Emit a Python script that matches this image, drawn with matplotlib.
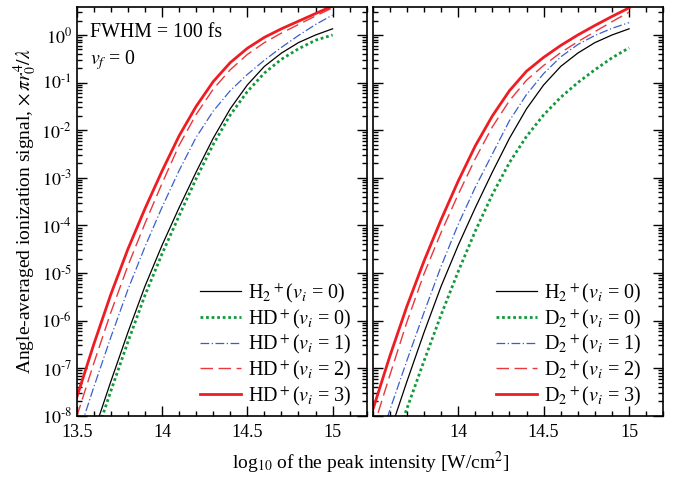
import numpy as np
import matplotlib
matplotlib.use("Agg")
import matplotlib.pyplot as plt
from matplotlib.ticker import MultipleLocator, FixedLocator, FixedFormatter, LogLocator, NullFormatter, FuncFormatter

plt.rcParams['font.family'] = ['Liberation Serif', 'DejaVu Serif']
plt.rcParams['mathtext.fontset'] = 'stix'

# log10 of peak intensity [W/cm^2]
intensity = np.array([13.5, 13.6, 13.7, 13.8, 13.9, 14.0, 14.1, 14.2,
                      14.3, 14.4, 14.5, 14.6, 14.7, 14.8, 14.9, 15.0])

# log10 of angle-averaged ionization signal
h2_v0 = [-9.45, -8.35, -7.28, -6.25, -5.28, -4.42, -3.63, -2.88,
         -2.17, -1.55, -1.05, -0.66, -0.38, -0.16, 0.0, 0.13]

# left panel: HD+
hd_v0 = [-9.65, -8.55, -7.48, -6.45, -5.47, -4.6, -3.8, -3.02,
         -2.3, -1.68, -1.19, -0.8, -0.51, -0.29, -0.11, 0.0]
hd_v1 = [-8.5, -7.4, -6.35, -5.35, -4.45, -3.62, -2.85, -2.15,
         -1.6, -1.17, -0.83, -0.53, -0.26, -0.01, 0.22, 0.42]
hd_v2 = [-8.02, -6.9, -5.83, -4.85, -3.96, -3.12, -2.32, -1.67,
         -1.14, -0.73, -0.41, -0.16, 0.04, 0.22, 0.40, 0.57]
hd_v3 = [-7.62, -6.5, -5.45, -4.5, -3.65, -2.86, -2.12, -1.5,
         -0.98, -0.58, -0.28, -0.05, 0.13, 0.29, 0.45, 0.61]

# right panel: D2+
d2_v0 = [-9.85, -8.85, -7.85, -6.85, -5.88, -4.97, -4.12, -3.35,
         -2.68, -2.13, -1.68, -1.31, -1.0, -0.73, -0.48, -0.27]
d2_v1 = [-8.95, -7.88, -6.84, -5.83, -4.86, -3.98, -3.2, -2.5,
         -1.8, -1.25, -0.81, -0.46, -0.2, -0.01, 0.14, 0.26]
d2_v2 = [-8.3, -7.15, -6.03, -5.02, -4.15, -3.35, -2.6, -1.93,
         -1.38, -0.95, -0.64, -0.37, -0.14, 0.07, 0.28, 0.48]
d2_v3 = [-7.88, -6.75, -5.7, -4.75, -3.88, -3.07, -2.33, -1.7,
         -1.17, -0.76, -0.47, -0.22, 0.0, 0.2, 0.39, 0.57]

styles = [
    dict(color='black', lw=0.9, ls='-'),
    dict(color='#129a3a', lw=2.0, ls=(0, (1, 1))),
    dict(color='#3a5fcd', lw=0.9, ls=(0, (7, 2, 1, 2))),
    dict(color='#e8383d', lw=1.0, ls=(0, (9, 4))),
    dict(color='#ee1d23', lw=2.0, ls='-'),
]

left_series = [h2_v0, hd_v0, hd_v1, hd_v2, hd_v3]
left_labels = [r'H$_2$$^+$($v_i$ = 0)', r'HD$^+$($v_i$ = 0)', r'HD$^+$($v_i$ = 1)',
               r'HD$^+$($v_i$ = 2)', r'HD$^+$($v_i$ = 3)']
right_series = [h2_v0, d2_v0, d2_v1, d2_v2, d2_v3]
right_labels = [r'H$_2$$^+$($v_i$ = 0)', r'D$_2$$^+$($v_i$ = 0)', r'D$_2$$^+$($v_i$ = 1)',
                r'D$_2$$^+$($v_i$ = 2)', r'D$_2$$^+$($v_i$ = 3)']


def pow_label(y, pos):
    e = int(round(np.log10(y)))
    if e < 0:
        return r'$10^{\text{-}%d}$' % (-e)
    return r'$10^{%d}$' % e


fig = plt.figure(figsize=(6.74, 4.8), dpi=100)
ax1 = fig.add_axes([0.1138, 0.1338, 0.4303, 0.8517])
ax2 = fig.add_axes([0.553, 0.1338, 0.4311, 0.8517])

for ax, series, labels, lx in [(ax1, left_series, left_labels, 0.949),
                               (ax2, right_series, right_labels, 0.926)]:
    for vals, lab, st in zip(series, labels, styles):
        ax.plot(intensity, np.power(10.0, vals), label=lab, **st)
    ax.set_yscale('log')
    ax.set_xlim(13.5, 15.2)
    ax.set_ylim(1e-8, 3.88)
    ax.xaxis.set_minor_locator(MultipleLocator(0.1))
    ax.yaxis.set_major_locator(LogLocator(base=10, numticks=20))
    ax.yaxis.set_major_formatter(FuncFormatter(pow_label))
    ax.yaxis.set_minor_locator(LogLocator(base=10, subs=np.arange(2, 10), numticks=20))
    ax.yaxis.set_minor_formatter(NullFormatter())
    ax.tick_params(which='both', direction='in', top=True, right=True, width=1.0)
    ax.tick_params(which='major', length=7, labelsize=13)
    ax.tick_params(axis='x', which='major', pad=6)
    ax.tick_params(which='minor', length=3.5)
    for s in ax.spines.values():
        s.set_linewidth(1.2)
    ax.legend(loc='lower right', bbox_to_anchor=(lx, 0.02), frameon=False, fontsize=14.5,
              handlelength=2.05, handletextpad=0.35, labelspacing=0.1,
              borderpad=0, borderaxespad=0)

ax1.xaxis.set_major_locator(FixedLocator([13.5, 14, 14.5, 15]))
ax1.xaxis.set_major_formatter(FixedFormatter(['13.5', '14', '14.5', '15']))
ax2.xaxis.set_major_locator(FixedLocator([14, 14.5, 15]))
ax2.xaxis.set_major_formatter(FixedFormatter(['14', '14.5', '15']))
ax2.tick_params(axis='y', which='both', labelleft=False)

ax1.set_ylabel(r'Angle-averaged ionization signal, $\times\,\pi r_0^4/\lambda$', fontsize=14, labelpad=2)
ax1.text(0.045, 0.96, 'FWHM = 100 fs', transform=ax1.transAxes, fontsize=14.3, va='top')
ax1.text(0.045, 0.9, r'$v_f$ = 0', transform=ax1.transAxes, fontsize=14.3, va='top')

fig.text(0.55, 0.022, r'log$_{10}$ of the peak intensity [W/cm$^2$]', fontsize=14, ha='center')

fig.savefig('out.png', dpi=100)
